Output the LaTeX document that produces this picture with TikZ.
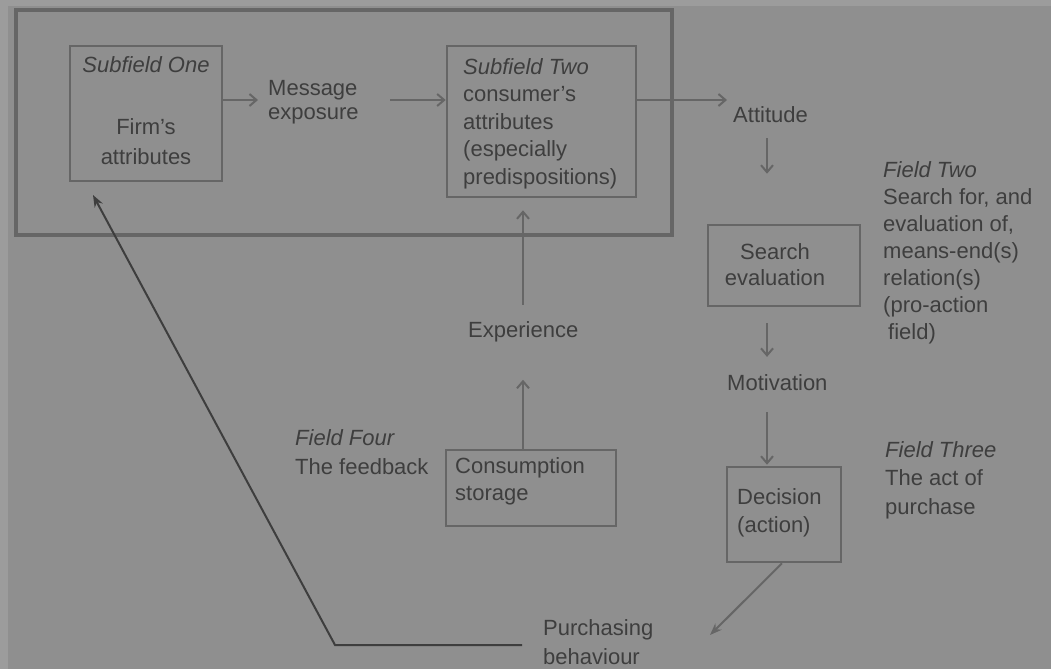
\documentclass[tikz,border=0pt]{standalone}
\usepackage{fontspec}
\setmainfont{Liberation Sans}
\usetikzlibrary{arrows.meta}
\definecolor{bg}{HTML}{8F8F8F}
\definecolor{margin}{HTML}{9C9C9C}
\definecolor{ink}{HTML}{3E3E3E}
\definecolor{rule}{HTML}{666666}
\begin{document}
\begin{tikzpicture}[x=1pt,y=-1pt,
  % multi-line texts are placed by the baseline of their last line
  txt/.style={text=ink, inner sep=0pt, align=left, anchor=base west,
              font=\fontsize{22}{27}\selectfont},
  box/.style={draw=rule, line width=2.6pt, inner sep=0pt},
  arr/.style={draw=rule, line width=2pt, -{Straight Barb[length=7pt,width=12pt]}},
  fb/.style={draw=ink, line width=2pt, -{Stealth[length=12pt,width=9pt]}},
]
% page and grey ground
\fill[margin] (0,0) rectangle (1051,669);
\fill[bg] (8,6) rectangle (1051,669);
\useasboundingbox (0,0) rectangle (1051,669);

% field one frame
\node[box, line width=3.5pt, minimum width=656pt, minimum height=225pt] (f1) at (344,122.5) {};

% boxes
\node[box, minimum width=152pt, minimum height=135pt] (s1) at (146,113.5) {};
\node[box, minimum width=189pt, minimum height=151pt] (s2) at (541.5,121.5) {};
\node[box, minimum width=152pt, minimum height=81pt]  (se) at (784,265.5) {};
\node[box, minimum width=114pt, minimum height=95pt]  (dc) at (784,514.5) {};
\node[box, minimum width=170pt, minimum height=76pt]  (cs) at (531,488) {};

% texts
\node[txt, align=center, anchor=base, font=\fontsize{22}{30}\selectfont] (s1t) at (146,164)
  {\textit{Subfield One}\\[32pt]Firm's\\attributes};
\node[txt, font=\fontsize{22}{24}\selectfont] (msg) at (268,119) {Message\\exposure};
\node[txt, font=\fontsize{22}{27.5}\selectfont] (s2t) at (463,184)
  {\textit{Subfield Two}\\consumer's\\attributes\\(especially\\predispositions)};
\node[txt] (att) at (733,122) {Attitude};
\node[txt, align=center, anchor=base, font=\fontsize{22}{26}\selectfont] (set) at (775,285)
  {Search\\evaluation};
\node[txt] (f2) at (883,339)
  {\textit{Field Two}\\Search for, and\\evaluation of,\\means-end(s)\\relation(s)\\(pro-action\\\hspace*{5pt}field)};
\node[txt] (mot) at (727,390) {Motivation};
\node[txt, font=\fontsize{22}{28}\selectfont] (dct) at (737,532) {Decision\\(action)};
\node[txt, font=\fontsize{22}{28.5}\selectfont] (f3) at (885,514)
  {\textit{Field Three}\\The act of\\purchase};
\node[txt, font=\fontsize{22}{29}\selectfont] (pb) at (543,664) {Purchasing\\behaviour};
\node[txt, font=\fontsize{22}{27}\selectfont] (cst) at (455,500) {Consumption\\storage};
\node[txt] (exp) at (468,337) {Experience};
\node[txt, font=\fontsize{22}{29}\selectfont] (f4) at (295,474) {\textit{Field Four}\\The feedback};

% helper points for free arrow ends
\coordinate (row) at (0,100);
\coordinate (col) at (767,0);
\coordinate (col2) at (523,0);
\coordinate (msgin) at (258,100);
\coordinate (msgout) at (390,100);
\coordinate (attin) at (727,100);
\coordinate (pbin) at (710,635);
\coordinate (fbstart) at (522,645);
\coordinate (fbcorner) at (335,645);
\coordinate (fbend) at (93,195);

% connectors
\draw[arr] (s1.east |- row) -- (msgin);
\draw[arr] (msgout) -- (s2.west |- row);
\draw[arr] (s2.east |- row) -- (attin);
\draw[arr, shorten <=16pt, shorten >=50pt] (att.south -| col) -- (se.north -| col);
\draw[arr, shorten <=16pt, shorten >=17pt] (se.south -| col) -- (mot.north -| col);
\draw[arr, shorten <=22pt, shorten >=1pt] (mot.south -| col) -- (dc.north -| col);
\draw[fb, draw=rule] (dc.south -| 782,0) -- (pbin);
\draw[arr, shorten >=38pt] (cs.north -| col2) -- (exp.south -| col2);
\draw[arr, shorten <=16pt, shorten >=12pt] (exp.north -| col2) -- (s2.south -| col2);
\draw[fb] (fbstart) -- (fbcorner) -- (fbend);
\end{tikzpicture}
\end{document}
